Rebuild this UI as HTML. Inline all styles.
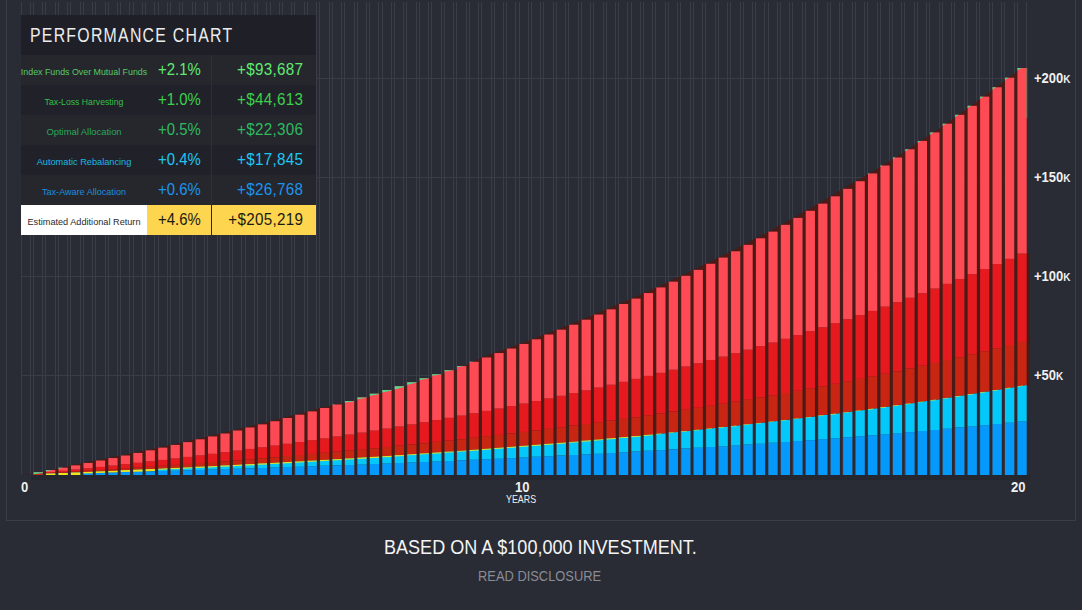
<!DOCTYPE html>
<html><head><meta charset="utf-8"><style>
html,body{margin:0;padding:0;}
body{width:1082px;height:610px;overflow:hidden;background:#292b35;position:relative;font-family:"Liberation Sans",sans-serif;}
.abs{position:absolute;white-space:nowrap;}
#frame{position:absolute;left:6px;top:-10px;width:1068px;height:529px;border:1px solid #3b3d48;}
svg{position:absolute;left:0;top:0;}
.hdr{position:absolute;left:21px;top:15px;width:294.5px;height:40px;background:#1f2027;}
.hdr span{position:absolute;left:9.3px;top:8.6px;font-size:20px;color:#ececec;letter-spacing:1.6px;white-space:nowrap;transform-origin:0 0;transform:scaleX(0.792);}
.row{position:absolute;left:21px;width:294.5px;height:30px;}
.c1,.c2,.c3{position:absolute;top:0;height:30px;white-space:nowrap;}
.c1{left:0;width:126px;text-align:center;font-size:9.3px;line-height:34px;}
.c1 i{font-style:normal;position:absolute;left:50%;top:0;white-space:nowrap;transform-origin:0 50%;}
.c2{left:126px;width:64px;text-align:center;font-size:15.7px;line-height:30px;}
.c2 i{font-style:normal;display:inline-block;transform:scaleX(0.95);}
.c3{left:190px;width:104px;font-size:15.7px;line-height:30px;}
.c3 span{position:absolute;right:11.5px;letter-spacing:0.3px;transform-origin:100% 50%;transform:scaleX(0.97);}
.ylab{position:absolute;left:1033.5px;font-size:15px;font-weight:bold;color:#f0f0f0;transform-origin:0 0;transform:scaleX(0.865);}
.ylab small{font-size:11.5px;}
.xlab{position:absolute;font-size:14.5px;font-weight:bold;color:#f0f0f0;transform-origin:0 0;transform:scaleX(0.9);}
</style></head><body>
<div id="frame"></div>
<svg width="1082" height="610" viewBox="0 0 1082 610">
<rect x="21" y="2" width="1" height="473" fill="#3a3c47"/>
<rect x="30" y="2" width="1" height="473" fill="#3a3c47"/>
<rect x="33" y="2" width="1" height="473" fill="#3a3c47"/>
<rect x="42" y="2" width="1" height="473" fill="#3a3c47"/>
<rect x="45" y="2" width="1" height="473" fill="#3a3c47"/>
<rect x="55" y="2" width="1" height="473" fill="#3a3c47"/>
<rect x="58" y="2" width="1" height="473" fill="#3a3c47"/>
<rect x="67" y="2" width="1" height="473" fill="#3a3c47"/>
<rect x="70" y="2" width="1" height="473" fill="#3a3c47"/>
<rect x="80" y="2" width="1" height="473" fill="#3a3c47"/>
<rect x="83" y="2" width="1" height="473" fill="#3a3c47"/>
<rect x="92" y="2" width="1" height="473" fill="#3a3c47"/>
<rect x="95" y="2" width="1" height="473" fill="#3a3c47"/>
<rect x="105" y="2" width="1" height="473" fill="#3a3c47"/>
<rect x="108" y="2" width="1" height="473" fill="#3a3c47"/>
<rect x="117" y="2" width="1" height="473" fill="#3a3c47"/>
<rect x="120" y="2" width="1" height="473" fill="#3a3c47"/>
<rect x="129" y="2" width="1" height="473" fill="#3a3c47"/>
<rect x="133" y="2" width="1" height="473" fill="#3a3c47"/>
<rect x="142" y="2" width="1" height="473" fill="#3a3c47"/>
<rect x="145" y="2" width="1" height="473" fill="#3a3c47"/>
<rect x="154" y="2" width="1" height="473" fill="#3a3c47"/>
<rect x="158" y="2" width="1" height="473" fill="#3a3c47"/>
<rect x="167" y="2" width="1" height="473" fill="#3a3c47"/>
<rect x="170" y="2" width="1" height="473" fill="#3a3c47"/>
<rect x="179" y="2" width="1" height="473" fill="#3a3c47"/>
<rect x="182" y="2" width="1" height="473" fill="#3a3c47"/>
<rect x="192" y="2" width="1" height="473" fill="#3a3c47"/>
<rect x="195" y="2" width="1" height="473" fill="#3a3c47"/>
<rect x="204" y="2" width="1" height="473" fill="#3a3c47"/>
<rect x="207" y="2" width="1" height="473" fill="#3a3c47"/>
<rect x="217" y="2" width="1" height="473" fill="#3a3c47"/>
<rect x="220" y="2" width="1" height="473" fill="#3a3c47"/>
<rect x="229" y="2" width="1" height="473" fill="#3a3c47"/>
<rect x="232" y="2" width="1" height="473" fill="#3a3c47"/>
<rect x="241" y="2" width="1" height="473" fill="#3a3c47"/>
<rect x="245" y="2" width="1" height="473" fill="#3a3c47"/>
<rect x="254" y="2" width="1" height="473" fill="#3a3c47"/>
<rect x="257" y="2" width="1" height="473" fill="#3a3c47"/>
<rect x="266" y="2" width="1" height="473" fill="#3a3c47"/>
<rect x="270" y="2" width="1" height="473" fill="#3a3c47"/>
<rect x="279" y="2" width="1" height="473" fill="#3a3c47"/>
<rect x="282" y="2" width="1" height="473" fill="#3a3c47"/>
<rect x="291" y="2" width="1" height="473" fill="#3a3c47"/>
<rect x="294" y="2" width="1" height="473" fill="#3a3c47"/>
<rect x="304" y="2" width="1" height="473" fill="#3a3c47"/>
<rect x="307" y="2" width="1" height="473" fill="#3a3c47"/>
<rect x="316" y="2" width="1" height="473" fill="#3a3c47"/>
<rect x="319" y="2" width="1" height="473" fill="#3a3c47"/>
<rect x="329" y="2" width="1" height="473" fill="#3a3c47"/>
<rect x="332" y="2" width="1" height="473" fill="#3a3c47"/>
<rect x="341" y="2" width="1" height="473" fill="#3a3c47"/>
<rect x="344" y="2" width="1" height="473" fill="#3a3c47"/>
<rect x="354" y="2" width="1" height="473" fill="#3a3c47"/>
<rect x="357" y="2" width="1" height="473" fill="#3a3c47"/>
<rect x="366" y="2" width="1" height="473" fill="#3a3c47"/>
<rect x="369" y="2" width="1" height="473" fill="#3a3c47"/>
<rect x="378" y="2" width="1" height="473" fill="#3a3c47"/>
<rect x="382" y="2" width="1" height="473" fill="#3a3c47"/>
<rect x="391" y="2" width="1" height="473" fill="#3a3c47"/>
<rect x="394" y="2" width="1" height="473" fill="#3a3c47"/>
<rect x="403" y="2" width="1" height="473" fill="#3a3c47"/>
<rect x="406" y="2" width="1" height="473" fill="#3a3c47"/>
<rect x="416" y="2" width="1" height="473" fill="#3a3c47"/>
<rect x="419" y="2" width="1" height="473" fill="#3a3c47"/>
<rect x="428" y="2" width="1" height="473" fill="#3a3c47"/>
<rect x="431" y="2" width="1" height="473" fill="#3a3c47"/>
<rect x="441" y="2" width="1" height="473" fill="#3a3c47"/>
<rect x="444" y="2" width="1" height="473" fill="#3a3c47"/>
<rect x="453" y="2" width="1" height="473" fill="#3a3c47"/>
<rect x="456" y="2" width="1" height="473" fill="#3a3c47"/>
<rect x="466" y="2" width="1" height="473" fill="#3a3c47"/>
<rect x="469" y="2" width="1" height="473" fill="#3a3c47"/>
<rect x="478" y="2" width="1" height="473" fill="#3a3c47"/>
<rect x="481" y="2" width="1" height="473" fill="#3a3c47"/>
<rect x="491" y="2" width="1" height="473" fill="#3a3c47"/>
<rect x="494" y="2" width="1" height="473" fill="#3a3c47"/>
<rect x="503" y="2" width="1" height="473" fill="#3a3c47"/>
<rect x="506" y="2" width="1" height="473" fill="#3a3c47"/>
<rect x="515" y="2" width="1" height="473" fill="#3a3c47"/>
<rect x="519" y="2" width="1" height="473" fill="#3a3c47"/>
<rect x="528" y="2" width="1" height="473" fill="#3a3c47"/>
<rect x="531" y="2" width="1" height="473" fill="#3a3c47"/>
<rect x="540" y="2" width="1" height="473" fill="#3a3c47"/>
<rect x="543" y="2" width="1" height="473" fill="#3a3c47"/>
<rect x="553" y="2" width="1" height="473" fill="#3a3c47"/>
<rect x="556" y="2" width="1" height="473" fill="#3a3c47"/>
<rect x="565" y="2" width="1" height="473" fill="#3a3c47"/>
<rect x="568" y="2" width="1" height="473" fill="#3a3c47"/>
<rect x="578" y="2" width="1" height="473" fill="#3a3c47"/>
<rect x="581" y="2" width="1" height="473" fill="#3a3c47"/>
<rect x="590" y="2" width="1" height="473" fill="#3a3c47"/>
<rect x="593" y="2" width="1" height="473" fill="#3a3c47"/>
<rect x="603" y="2" width="1" height="473" fill="#3a3c47"/>
<rect x="606" y="2" width="1" height="473" fill="#3a3c47"/>
<rect x="615" y="2" width="1" height="473" fill="#3a3c47"/>
<rect x="618" y="2" width="1" height="473" fill="#3a3c47"/>
<rect x="627" y="2" width="1" height="473" fill="#3a3c47"/>
<rect x="631" y="2" width="1" height="473" fill="#3a3c47"/>
<rect x="640" y="2" width="1" height="473" fill="#3a3c47"/>
<rect x="643" y="2" width="1" height="473" fill="#3a3c47"/>
<rect x="652" y="2" width="1" height="473" fill="#3a3c47"/>
<rect x="655" y="2" width="1" height="473" fill="#3a3c47"/>
<rect x="665" y="2" width="1" height="473" fill="#3a3c47"/>
<rect x="668" y="2" width="1" height="473" fill="#3a3c47"/>
<rect x="677" y="2" width="1" height="473" fill="#3a3c47"/>
<rect x="680" y="2" width="1" height="473" fill="#3a3c47"/>
<rect x="690" y="2" width="1" height="473" fill="#3a3c47"/>
<rect x="693" y="2" width="1" height="473" fill="#3a3c47"/>
<rect x="702" y="2" width="1" height="473" fill="#3a3c47"/>
<rect x="705" y="2" width="1" height="473" fill="#3a3c47"/>
<rect x="715" y="2" width="1" height="473" fill="#3a3c47"/>
<rect x="718" y="2" width="1" height="473" fill="#3a3c47"/>
<rect x="727" y="2" width="1" height="473" fill="#3a3c47"/>
<rect x="730" y="2" width="1" height="473" fill="#3a3c47"/>
<rect x="740" y="2" width="1" height="473" fill="#3a3c47"/>
<rect x="743" y="2" width="1" height="473" fill="#3a3c47"/>
<rect x="752" y="2" width="1" height="473" fill="#3a3c47"/>
<rect x="755" y="2" width="1" height="473" fill="#3a3c47"/>
<rect x="764" y="2" width="1" height="473" fill="#3a3c47"/>
<rect x="768" y="2" width="1" height="473" fill="#3a3c47"/>
<rect x="777" y="2" width="1" height="473" fill="#3a3c47"/>
<rect x="780" y="2" width="1" height="473" fill="#3a3c47"/>
<rect x="789" y="2" width="1" height="473" fill="#3a3c47"/>
<rect x="792" y="2" width="1" height="473" fill="#3a3c47"/>
<rect x="802" y="2" width="1" height="473" fill="#3a3c47"/>
<rect x="805" y="2" width="1" height="473" fill="#3a3c47"/>
<rect x="814" y="2" width="1" height="473" fill="#3a3c47"/>
<rect x="817" y="2" width="1" height="473" fill="#3a3c47"/>
<rect x="827" y="2" width="1" height="473" fill="#3a3c47"/>
<rect x="830" y="2" width="1" height="473" fill="#3a3c47"/>
<rect x="839" y="2" width="1" height="473" fill="#3a3c47"/>
<rect x="842" y="2" width="1" height="473" fill="#3a3c47"/>
<rect x="852" y="2" width="1" height="473" fill="#3a3c47"/>
<rect x="855" y="2" width="1" height="473" fill="#3a3c47"/>
<rect x="864" y="2" width="1" height="473" fill="#3a3c47"/>
<rect x="867" y="2" width="1" height="473" fill="#3a3c47"/>
<rect x="877" y="2" width="1" height="473" fill="#3a3c47"/>
<rect x="880" y="2" width="1" height="473" fill="#3a3c47"/>
<rect x="889" y="2" width="1" height="473" fill="#3a3c47"/>
<rect x="892" y="2" width="1" height="473" fill="#3a3c47"/>
<rect x="901" y="2" width="1" height="473" fill="#3a3c47"/>
<rect x="904" y="2" width="1" height="473" fill="#3a3c47"/>
<rect x="914" y="2" width="1" height="473" fill="#3a3c47"/>
<rect x="917" y="2" width="1" height="473" fill="#3a3c47"/>
<rect x="926" y="2" width="1" height="473" fill="#3a3c47"/>
<rect x="929" y="2" width="1" height="473" fill="#3a3c47"/>
<rect x="939" y="2" width="1" height="473" fill="#3a3c47"/>
<rect x="942" y="2" width="1" height="473" fill="#3a3c47"/>
<rect x="951" y="2" width="1" height="473" fill="#3a3c47"/>
<rect x="954" y="2" width="1" height="473" fill="#3a3c47"/>
<rect x="964" y="2" width="1" height="473" fill="#3a3c47"/>
<rect x="967" y="2" width="1" height="473" fill="#3a3c47"/>
<rect x="976" y="2" width="1" height="473" fill="#3a3c47"/>
<rect x="979" y="2" width="1" height="473" fill="#3a3c47"/>
<rect x="989" y="2" width="1" height="473" fill="#3a3c47"/>
<rect x="992" y="2" width="1" height="473" fill="#3a3c47"/>
<rect x="1001" y="2" width="1" height="473" fill="#3a3c47"/>
<rect x="1004" y="2" width="1" height="473" fill="#3a3c47"/>
<rect x="1014" y="2" width="1" height="473" fill="#3a3c47"/>
<rect x="1017" y="2" width="1" height="473" fill="#3a3c47"/>
<rect x="1026" y="2" width="1" height="473" fill="#3a3c47"/>
<rect x="31" y="475" width="999" height="5" fill="#1c1d24" fill-opacity="0.25"/>
<rect x="21" y="78" width="1006" height="1" fill="#3a3c47"/>
<rect x="21" y="177" width="1006" height="1" fill="#3a3c47"/>
<rect x="21" y="276" width="1006" height="1" fill="#3a3c47"/>
<rect x="21" y="375" width="1006" height="1" fill="#3a3c47"/>
<polygon points="21.17,474.50 46.20,472.28 52.08,470.01 63.03,467.71 70.98,465.36 83.44,462.97 95.89,460.53 108.34,458.05 120.80,455.52 133.25,452.94 145.70,450.32 158.16,447.65 170.61,444.92 183.07,442.15 195.52,439.32 207.97,436.45 220.43,433.51 232.88,430.53 245.33,427.48 257.79,424.38 270.24,421.23 282.69,418.01 295.15,414.73 307.60,411.39 320.05,407.99 335.51,404.52 354.89,400.99 367.67,397.40 380.45,393.73 393.21,390.00 406.29,386.19 417.73,382.32 429.53,378.37 441.82,374.34 454.11,370.24 464.04,366.07 473.50,361.81 481.95,357.48 494.40,353.06 506.86,348.56 519.31,343.97 531.76,339.30 544.22,334.54 556.67,329.69 569.12,324.75 581.58,319.71 594.03,314.58 606.48,309.35 618.94,304.02 631.39,298.59 643.84,293.06 656.30,287.43 668.75,281.68 681.21,275.83 693.66,269.87 706.11,263.79 718.57,257.60 731.02,251.29 743.47,244.87 755.93,238.32 768.38,231.64 780.83,224.84 793.29,217.91 805.74,210.85 818.19,203.65 830.65,196.32 843.10,188.85 855.55,181.23 869.51,173.47 882.46,165.57 895.51,157.51 908.67,149.30 920.42,140.93 933.58,132.41 946.13,123.72 958.58,114.86 971.04,105.84 983.49,96.65 996.14,87.28 1008.60,77.73 1021.95,68.00 1026.67,68.00 1026.67,253.58 1029.67,253.58 1029.67,386.13 1017.45,386.13 1005.00,388.25 992.54,390.32 980.09,392.36 967.64,394.36 955.18,396.32 942.73,398.24 930.28,400.13 917.82,401.99 905.37,403.80 892.91,405.59 880.46,407.34 868.01,409.06 855.55,410.75 843.10,412.40 830.65,414.03 818.19,415.62 805.74,417.18 793.29,418.72 780.83,420.23 768.38,421.70 755.93,423.16 743.47,424.58 731.02,425.98 718.57,427.35 706.11,428.69 693.66,430.02 681.21,431.31 668.75,432.58 656.30,433.83 643.84,435.06 631.39,436.26 618.94,437.44 606.48,438.60 594.03,439.73 581.58,440.85 569.12,441.94 556.67,443.02 544.22,444.07 531.76,445.11 519.31,446.12 506.86,447.12 494.40,448.10 481.95,449.06 469.50,450.00 457.04,450.93 444.59,451.84 432.14,452.73 419.68,453.60 407.23,454.46 394.78,455.30 382.32,456.13 369.87,456.94 357.41,457.74 344.96,458.52 332.51,459.29 320.05,460.04 307.60,460.78 295.15,461.51 282.69,462.22 270.24,462.92 257.79,463.61 245.33,464.28 232.88,464.94 220.43,465.59 207.97,466.23 195.52,466.85 183.07,467.47 170.61,468.07 158.16,468.66 145.70,469.24 133.25,469.81 120.80,470.37 108.34,470.92 95.89,471.46 83.44,471.99 70.98,472.51 58.53,473.02 46.08,473.52 33.62,474.02 21.17,474.50" fill="#4e1a13" fill-opacity="0.9"/>
<polygon points="21.17,474.50 33.62,474.02 46.08,473.52 58.53,473.02 70.98,472.51 83.44,471.99 95.89,471.46 108.34,470.92 120.80,470.37 133.25,469.81 145.70,469.24 158.16,468.66 170.61,468.07 183.07,467.47 195.52,466.85 207.97,466.23 220.43,465.59 232.88,464.94 245.33,464.28 257.79,463.61 270.24,462.92 282.69,462.22 295.15,461.51 307.60,460.78 320.05,460.04 332.51,459.29 344.96,458.52 357.41,457.74 369.87,456.94 382.32,456.13 394.78,455.30 407.23,454.46 419.68,453.60 432.14,452.73 444.59,451.84 457.04,450.93 469.50,450.00 481.95,449.06 494.40,448.10 506.86,447.12 519.31,446.12 531.76,445.11 544.22,444.07 556.67,443.02 569.12,441.94 581.58,440.85 594.03,439.73 606.48,438.60 618.94,437.44 631.39,436.26 643.84,435.06 656.30,433.83 668.75,432.58 681.21,431.31 693.66,430.02 706.11,428.69 718.57,427.35 731.02,425.98 743.47,424.58 755.93,423.16 768.38,421.70 780.83,420.23 793.29,418.72 805.74,417.18 818.19,415.62 830.65,414.03 843.10,412.40 855.55,410.75 868.01,409.06 880.46,407.34 892.91,405.59 905.37,403.80 917.82,401.99 930.28,400.13 942.73,398.24 955.18,396.32 967.64,394.36 980.09,392.36 992.54,390.32 1005.00,388.25 1017.45,386.13 1029.67,386.13 1029.67,475.00 1017.45,475.00 1005.00,475.00 992.54,475.00 980.09,475.00 967.64,475.00 955.18,475.00 942.73,475.00 930.28,475.00 917.82,475.00 905.37,475.00 892.91,475.00 880.46,475.00 868.01,475.00 855.55,475.00 843.10,475.00 830.65,475.00 818.19,475.00 805.74,475.00 793.29,475.00 780.83,475.00 768.38,475.00 755.93,475.00 743.47,475.00 731.02,475.00 718.57,475.00 706.11,475.00 693.66,475.00 681.21,475.00 668.75,475.00 656.30,475.00 643.84,475.00 631.39,475.00 618.94,475.00 606.48,475.00 594.03,475.00 581.58,475.00 569.12,475.00 556.67,475.00 544.22,475.00 531.76,475.00 519.31,475.00 506.86,475.00 494.40,475.00 481.95,475.00 469.50,475.00 457.04,475.00 444.59,475.00 432.14,475.00 419.68,475.00 407.23,475.00 394.78,475.00 382.32,475.00 369.87,475.00 357.41,475.00 344.96,475.00 332.51,475.00 320.05,475.00 307.60,475.00 295.15,475.00 282.69,475.00 270.24,475.00 257.79,475.00 245.33,475.00 232.88,475.00 220.43,475.00 207.97,475.00 195.52,475.00 183.07,475.00 170.61,475.00 158.16,475.00 145.70,475.00 133.25,475.00 120.80,475.00 108.34,475.00 95.89,475.00 83.44,475.00 70.98,475.00 58.53,475.00 46.08,475.00 33.62,475.00 21.17,475.00" fill="#3a1f22" fill-opacity="0.2"/>
<rect x="33.62" y="474.21" width="9.22" height="0.79" fill="#0599fc"/>
<polygon points="33.62,474.21 42.84,474.21 42.84,473.77 33.62,474.02" fill="#04c8fa"/>
<polygon points="33.62,474.02 42.84,473.77 42.84,473.78 33.62,473.78" fill="#c82612"/>
<rect x="33.62" y="473.29" width="9.22" height="0.48" fill="#e6191f"/>
<rect x="33.62" y="472.28" width="9.22" height="1.01" fill="#fe4a54"/>
<rect x="33.62" y="474.02" width="9.22" height="0.98" fill="#c82612"/>
<polygon points="33.62,472.28 42.84,472.28 42.84,472.88 33.62,474.28" fill="#52d98a"/>
<rect x="46.08" y="473.91" width="9.22" height="1.09" fill="#0599fc"/>
<polygon points="46.08,473.91 55.30,473.91 55.30,473.27 46.08,473.52" fill="#04c8fa"/>
<polygon points="46.08,473.52 55.30,473.27 55.30,473.04 46.08,473.04" fill="#c82612"/>
<rect x="46.08" y="472.06" width="9.22" height="0.98" fill="#e6191f"/>
<rect x="46.08" y="470.01" width="9.22" height="2.05" fill="#fe4a54"/>
<rect x="46.08" y="473.52" width="9.22" height="1.48" fill="#f2e21a"/>
<polygon points="46.08,470.01 52.08,470.01 46.08,471.31" fill="#52d98a"/>
<rect x="58.53" y="473.61" width="9.22" height="1.39" fill="#0599fc"/>
<polygon points="58.53,473.61 67.75,473.61 67.75,472.77 58.53,473.02" fill="#04c8fa"/>
<polygon points="58.53,473.02 67.75,472.77 67.75,472.29 58.53,472.29" fill="#c82612"/>
<rect x="58.53" y="470.81" width="9.22" height="1.48" fill="#e6191f"/>
<rect x="58.53" y="467.71" width="9.22" height="3.10" fill="#fe4a54"/>
<rect x="58.53" y="473.02" width="9.22" height="1.98" fill="#f2e21a"/>
<polygon points="58.53,467.71 63.03,467.71 58.53,468.71" fill="#52d98a"/>
<rect x="70.98" y="473.31" width="9.22" height="1.69" fill="#0599fc"/>
<polygon points="70.98,473.31 80.20,473.31 80.20,472.25 70.98,472.51" fill="#04c8fa"/>
<polygon points="70.98,472.51 80.20,472.25 80.20,471.52 70.98,471.52" fill="#c82612"/>
<rect x="70.98" y="469.53" width="9.22" height="1.99" fill="#e6191f"/>
<rect x="70.98" y="465.36" width="9.22" height="4.17" fill="#fe4a54"/>
<rect x="70.98" y="472.51" width="9.22" height="2.49" fill="#f2e21a"/>
<rect x="83.44" y="473.00" width="9.22" height="2.00" fill="#0599fc"/>
<polygon points="83.44,473.00 92.66,473.00 92.66,471.73 83.44,471.99" fill="#04c8fa"/>
<polygon points="83.44,471.99 92.66,471.73 92.66,470.74 83.44,470.74" fill="#c82612"/>
<rect x="83.44" y="468.23" width="9.22" height="2.51" fill="#e6191f"/>
<rect x="83.44" y="462.97" width="9.22" height="5.27" fill="#fe4a54"/>
<polygon points="83.44,473.59 92.66,473.33 92.66,471.73 83.44,471.99" fill="#f2e21a"/>
<rect x="95.89" y="472.68" width="9.22" height="2.32" fill="#0599fc"/>
<polygon points="95.89,472.68 105.11,472.68 105.11,471.19 95.89,471.46" fill="#04c8fa"/>
<polygon points="95.89,471.46 105.11,471.19 105.11,469.94 95.89,469.94" fill="#c82612"/>
<rect x="95.89" y="466.91" width="9.22" height="3.04" fill="#e6191f"/>
<rect x="95.89" y="460.53" width="9.22" height="6.38" fill="#fe4a54"/>
<polygon points="95.89,473.06 105.11,472.79 105.11,471.19 95.89,471.46" fill="#f2e21a"/>
<rect x="108.34" y="472.35" width="9.22" height="2.65" fill="#0599fc"/>
<polygon points="108.34,472.35 117.56,472.35 117.56,470.65 108.34,470.92" fill="#04c8fa"/>
<polygon points="108.34,470.92 117.56,470.65 117.56,469.13 108.34,469.13" fill="#c82612"/>
<rect x="108.34" y="465.56" width="9.22" height="3.58" fill="#e6191f"/>
<rect x="108.34" y="458.05" width="9.22" height="7.51" fill="#fe4a54"/>
<polygon points="108.34,472.52 117.56,472.25 117.56,470.65 108.34,470.92" fill="#f2e21a"/>
<rect x="120.80" y="472.02" width="9.22" height="2.98" fill="#0599fc"/>
<polygon points="120.80,472.02 130.02,472.02 130.02,470.09 120.80,470.37" fill="#04c8fa"/>
<polygon points="120.80,470.37 130.02,470.09 130.02,468.31 120.80,468.31" fill="#c82612"/>
<rect x="120.80" y="464.18" width="9.22" height="4.13" fill="#e6191f"/>
<rect x="120.80" y="455.52" width="9.22" height="8.67" fill="#fe4a54"/>
<polygon points="120.80,472.02 130.02,471.74 130.02,470.09 120.80,470.37" fill="#f2e21a"/>
<rect x="133.25" y="471.69" width="9.22" height="3.31" fill="#0599fc"/>
<polygon points="133.25,471.69 142.47,471.69 142.47,469.53 133.25,469.81" fill="#04c8fa"/>
<polygon points="133.25,469.81 142.47,469.53 142.47,467.47 133.25,467.47" fill="#c82612"/>
<rect x="133.25" y="462.78" width="9.22" height="4.69" fill="#e6191f"/>
<rect x="133.25" y="452.94" width="9.22" height="9.84" fill="#fe4a54"/>
<polygon points="133.25,471.69 142.47,471.40 142.47,469.53 133.25,469.81" fill="#f2e21a"/>
<rect x="145.70" y="471.35" width="9.22" height="3.65" fill="#0599fc"/>
<polygon points="145.70,471.35 154.92,471.35 154.92,468.95 145.70,469.24" fill="#04c8fa"/>
<polygon points="145.70,469.24 154.92,468.95 154.92,466.61 145.70,466.61" fill="#c82612"/>
<rect x="145.70" y="461.36" width="9.22" height="5.26" fill="#e6191f"/>
<rect x="145.70" y="450.32" width="9.22" height="11.04" fill="#fe4a54"/>
<polygon points="145.70,471.24 154.92,470.95 154.92,468.95 145.70,469.24" fill="#f2e21a"/>
<rect x="158.16" y="471.00" width="9.22" height="4.00" fill="#0599fc"/>
<polygon points="158.16,471.00 167.38,471.00 167.38,468.37 158.16,468.66" fill="#04c8fa"/>
<polygon points="158.16,468.66 167.38,468.37 167.38,465.74 158.16,465.74" fill="#c82612"/>
<rect x="158.16" y="459.91" width="9.22" height="5.84" fill="#e6191f"/>
<rect x="158.16" y="447.65" width="9.22" height="12.26" fill="#fe4a54"/>
<polygon points="158.16,469.86 167.38,469.57 167.38,468.37 158.16,468.66" fill="#f2e21a" fill-opacity="0.9"/>
<rect x="170.61" y="470.64" width="9.22" height="4.36" fill="#0599fc"/>
<polygon points="170.61,470.64 179.83,470.64 179.83,467.77 170.61,468.07" fill="#04c8fa"/>
<polygon points="170.61,468.07 179.83,467.77 179.83,464.86 170.61,464.86" fill="#c82612"/>
<rect x="170.61" y="458.43" width="9.22" height="6.43" fill="#e6191f"/>
<rect x="170.61" y="444.92" width="9.22" height="13.50" fill="#fe4a54"/>
<polygon points="170.61,469.27 179.83,468.97 179.83,467.77 170.61,468.07" fill="#f2e21a" fill-opacity="0.9"/>
<rect x="183.07" y="470.28" width="9.22" height="4.72" fill="#0599fc"/>
<polygon points="183.07,470.28 192.29,470.28 192.29,467.16 183.07,467.47" fill="#04c8fa"/>
<polygon points="183.07,467.47 192.29,467.16 192.29,463.95 183.07,463.95" fill="#c82612"/>
<rect x="183.07" y="456.92" width="9.22" height="7.03" fill="#e6191f"/>
<rect x="183.07" y="442.15" width="9.22" height="14.77" fill="#fe4a54"/>
<polygon points="183.07,468.67 192.29,468.36 192.29,467.16 183.07,467.47" fill="#f2e21a" fill-opacity="0.9"/>
<rect x="195.52" y="469.91" width="9.22" height="5.09" fill="#0599fc"/>
<polygon points="195.52,469.91 204.74,469.91 204.74,466.54 195.52,466.85" fill="#04c8fa"/>
<polygon points="195.52,466.85 204.74,466.54 204.74,463.03 195.52,463.03" fill="#c82612"/>
<rect x="195.52" y="455.38" width="9.22" height="7.65" fill="#e6191f"/>
<rect x="195.52" y="439.32" width="9.22" height="16.06" fill="#fe4a54"/>
<polygon points="195.52,468.05 204.74,467.74 204.74,466.54 195.52,466.85" fill="#f2e21a" fill-opacity="0.9"/>
<rect x="207.97" y="469.54" width="9.22" height="5.46" fill="#0599fc"/>
<polygon points="207.97,469.54 217.19,469.54 217.19,465.91 207.97,466.23" fill="#04c8fa"/>
<polygon points="207.97,466.23 217.19,465.91 217.19,462.09 207.97,462.09" fill="#c82612"/>
<rect x="207.97" y="453.82" width="9.22" height="8.27" fill="#e6191f"/>
<rect x="207.97" y="436.45" width="9.22" height="17.37" fill="#fe4a54"/>
<polygon points="207.97,467.43 217.19,467.11 217.19,465.91 207.97,466.23" fill="#f2e21a" fill-opacity="0.9"/>
<rect x="220.43" y="469.15" width="9.22" height="5.85" fill="#0599fc"/>
<polygon points="220.43,469.15 229.65,469.15 229.65,465.27 220.43,465.59" fill="#04c8fa"/>
<polygon points="220.43,465.59 229.65,465.27 229.65,461.13 220.43,461.13" fill="#c82612"/>
<rect x="220.43" y="452.22" width="9.22" height="8.91" fill="#e6191f"/>
<rect x="220.43" y="433.51" width="9.22" height="18.71" fill="#fe4a54"/>
<polygon points="220.43,466.79 229.65,466.47 229.65,465.27 220.43,465.59" fill="#f2e21a" fill-opacity="0.9"/>
<rect x="232.88" y="468.76" width="9.22" height="6.24" fill="#0599fc"/>
<polygon points="232.88,468.76 242.10,468.76 242.10,464.61 232.88,464.94" fill="#04c8fa"/>
<polygon points="232.88,464.94 242.10,464.61 242.10,460.16 232.88,460.16" fill="#c82612"/>
<rect x="232.88" y="450.60" width="9.22" height="9.56" fill="#e6191f"/>
<rect x="232.88" y="430.53" width="9.22" height="20.07" fill="#fe4a54"/>
<polygon points="232.88,466.14 242.10,465.81 242.10,464.61 232.88,464.94" fill="#f2e21a" fill-opacity="0.9"/>
<rect x="245.33" y="468.37" width="9.22" height="6.63" fill="#0599fc"/>
<polygon points="245.33,468.37 254.55,468.37 254.55,463.94 245.33,464.28" fill="#04c8fa"/>
<polygon points="245.33,464.28 254.55,463.94 254.55,459.17 245.33,459.17" fill="#c82612"/>
<rect x="245.33" y="448.95" width="9.22" height="10.22" fill="#e6191f"/>
<rect x="245.33" y="427.48" width="9.22" height="21.46" fill="#fe4a54"/>
<polygon points="245.33,465.48 254.55,465.14 254.55,463.94 245.33,464.28" fill="#f2e21a" fill-opacity="0.9"/>
<rect x="257.79" y="467.96" width="9.22" height="7.04" fill="#0599fc"/>
<polygon points="257.79,467.96 267.01,467.96 267.01,463.26 257.79,463.61" fill="#04c8fa"/>
<polygon points="257.79,463.61 267.01,463.26 267.01,458.16 257.79,458.16" fill="#c82612"/>
<rect x="257.79" y="447.26" width="9.22" height="10.89" fill="#e6191f"/>
<rect x="257.79" y="424.38" width="9.22" height="22.88" fill="#fe4a54"/>
<polygon points="257.79,464.81 267.01,464.46 267.01,463.26 257.79,463.61" fill="#f2e21a" fill-opacity="0.9"/>
<rect x="270.24" y="467.55" width="9.22" height="7.45" fill="#0599fc"/>
<polygon points="270.24,467.55 279.46,467.55 279.46,462.57 270.24,462.92" fill="#04c8fa"/>
<polygon points="270.24,462.92 279.46,462.57 279.46,457.13 270.24,457.13" fill="#c82612"/>
<rect x="270.24" y="445.55" width="9.22" height="11.58" fill="#e6191f"/>
<rect x="270.24" y="421.23" width="9.22" height="24.32" fill="#fe4a54"/>
<polygon points="270.24,464.12 279.46,463.77 279.46,462.57 270.24,462.92" fill="#f2e21a" fill-opacity="0.9"/>
<rect x="282.69" y="467.13" width="9.22" height="7.87" fill="#0599fc"/>
<polygon points="282.69,467.13 291.91,467.13 291.91,461.86 282.69,462.22" fill="#04c8fa"/>
<polygon points="282.69,462.22 291.91,461.86 291.91,456.08 282.69,456.08" fill="#c82612"/>
<rect x="282.69" y="443.80" width="9.22" height="12.28" fill="#e6191f"/>
<rect x="282.69" y="418.01" width="9.22" height="25.79" fill="#fe4a54"/>
<polygon points="282.69,463.42 291.91,463.06 291.91,461.86 282.69,462.22" fill="#f2e21a" fill-opacity="0.9"/>
<rect x="295.15" y="466.70" width="9.22" height="8.30" fill="#0599fc"/>
<polygon points="295.15,466.70 304.37,466.70 304.37,461.14 295.15,461.51" fill="#04c8fa"/>
<polygon points="295.15,461.51 304.37,461.14 304.37,455.01 295.15,455.01" fill="#c82612"/>
<rect x="295.15" y="442.02" width="9.22" height="12.99" fill="#e6191f"/>
<rect x="295.15" y="414.73" width="9.22" height="27.29" fill="#fe4a54"/>
<polygon points="295.15,462.71 304.37,462.34 304.37,461.14 295.15,461.51" fill="#f2e21a" fill-opacity="0.9"/>
<rect x="307.60" y="466.27" width="9.22" height="8.73" fill="#0599fc"/>
<polygon points="307.60,466.27 316.82,466.27 316.82,460.41 307.60,460.78" fill="#04c8fa"/>
<polygon points="307.60,460.78 316.82,460.41 316.82,453.92 307.60,453.92" fill="#c82612"/>
<rect x="307.60" y="440.20" width="9.22" height="13.72" fill="#e6191f"/>
<rect x="307.60" y="411.39" width="9.22" height="28.81" fill="#fe4a54"/>
<polygon points="307.60,461.98 316.82,461.61 316.82,460.41 307.60,460.78" fill="#f2e21a" fill-opacity="0.9"/>
<rect x="320.05" y="465.82" width="9.22" height="9.18" fill="#0599fc"/>
<polygon points="320.05,465.82 329.27,465.82 329.27,459.66 320.05,460.04" fill="#04c8fa"/>
<polygon points="320.05,460.04 329.27,459.66 329.27,452.81 320.05,452.81" fill="#c82612"/>
<rect x="320.05" y="438.35" width="9.22" height="14.46" fill="#e6191f"/>
<rect x="320.05" y="407.99" width="9.22" height="30.36" fill="#fe4a54"/>
<polygon points="320.05,461.24 329.27,460.86 329.27,459.66 320.05,460.04" fill="#f2e21a" fill-opacity="0.9"/>
<rect x="332.51" y="465.37" width="9.22" height="9.63" fill="#0599fc"/>
<polygon points="332.51,465.37 341.73,465.37 341.73,458.90 332.51,459.29" fill="#04c8fa"/>
<polygon points="332.51,459.29 341.73,458.90 341.73,451.68 332.51,451.68" fill="#c82612"/>
<rect x="332.51" y="436.47" width="9.22" height="15.21" fill="#e6191f"/>
<rect x="332.51" y="404.52" width="9.22" height="31.95" fill="#fe4a54"/>
<polygon points="332.51,460.49 341.73,460.10 341.73,458.90 332.51,459.29" fill="#f2e21a" fill-opacity="0.9"/>
<polygon points="332.51,404.52 335.51,404.52 332.51,405.12" fill="#52d98a"/>
<rect x="344.96" y="464.91" width="9.22" height="10.09" fill="#0599fc"/>
<polygon points="344.96,464.91 354.18,464.91 354.18,458.13 344.96,458.52" fill="#04c8fa"/>
<polygon points="344.96,458.52 354.18,458.13 354.18,450.53 344.96,450.53" fill="#c82612"/>
<rect x="344.96" y="434.55" width="9.22" height="15.98" fill="#e6191f"/>
<rect x="344.96" y="400.99" width="9.22" height="33.56" fill="#fe4a54"/>
<polygon points="344.96,459.72 354.18,459.33 354.18,458.13 344.96,458.52" fill="#f2e21a" fill-opacity="0.9"/>
<polygon points="344.96,400.99 354.18,400.99 354.18,401.19 344.96,402.49" fill="#52d98a"/>
<rect x="357.41" y="464.44" width="9.22" height="10.56" fill="#0599fc"/>
<polygon points="357.41,464.44 366.63,464.44 366.63,457.34 357.41,457.74" fill="#04c8fa"/>
<polygon points="357.41,457.74 366.63,457.34 366.63,449.36 357.41,449.36" fill="#c82612"/>
<rect x="357.41" y="432.60" width="9.22" height="16.76" fill="#e6191f"/>
<rect x="357.41" y="397.40" width="9.22" height="35.20" fill="#fe4a54"/>
<polygon points="357.41,458.94 366.63,458.54 366.63,457.34 357.41,457.74" fill="#f2e21a" fill-opacity="0.9"/>
<polygon points="357.41,397.40 366.63,397.40 366.63,397.70 357.41,399.20" fill="#52d98a"/>
<rect x="369.87" y="463.96" width="9.22" height="11.04" fill="#0599fc"/>
<polygon points="369.87,463.96 379.09,463.96 379.09,456.54 369.87,456.94" fill="#04c8fa"/>
<polygon points="369.87,456.94 379.09,456.54 379.09,448.16 369.87,448.16" fill="#c82612"/>
<rect x="369.87" y="430.60" width="9.22" height="17.56" fill="#e6191f"/>
<rect x="369.87" y="393.73" width="9.22" height="36.87" fill="#fe4a54"/>
<polygon points="369.87,458.14 379.09,457.74 379.09,456.54 369.87,456.94" fill="#f2e21a" fill-opacity="0.9"/>
<polygon points="369.87,393.73 379.09,393.73 379.09,394.13 369.87,395.73" fill="#52d98a"/>
<rect x="382.32" y="463.48" width="9.22" height="11.52" fill="#0599fc"/>
<polygon points="382.32,463.48 391.54,463.48 391.54,455.72 382.32,456.13" fill="#04c8fa"/>
<polygon points="382.32,456.13 391.54,455.72 391.54,446.94 382.32,446.94" fill="#c82612"/>
<rect x="382.32" y="428.57" width="9.22" height="18.37" fill="#e6191f"/>
<rect x="382.32" y="390.00" width="9.22" height="38.58" fill="#fe4a54"/>
<polygon points="382.32,457.33 391.54,456.92 391.54,455.72 382.32,456.13" fill="#f2e21a" fill-opacity="0.9"/>
<polygon points="382.32,390.00 391.54,390.00 391.54,390.50 382.32,392.40" fill="#52d98a"/>
<rect x="394.78" y="462.98" width="9.22" height="12.02" fill="#0599fc"/>
<polygon points="394.78,462.98 404.00,462.98 404.00,454.88 394.78,455.30" fill="#04c8fa"/>
<polygon points="394.78,455.30 404.00,454.88 404.00,445.70 394.78,445.70" fill="#c82612"/>
<rect x="394.78" y="426.51" width="9.22" height="19.20" fill="#e6191f"/>
<rect x="394.78" y="386.19" width="9.22" height="40.31" fill="#fe4a54"/>
<polygon points="394.78,456.50 404.00,456.08 404.00,454.88 394.78,455.30" fill="#f2e21a" fill-opacity="0.9"/>
<polygon points="394.78,386.19 404.00,386.19 404.00,386.89 394.78,389.39" fill="#52d98a"/>
<rect x="407.23" y="462.48" width="9.22" height="12.52" fill="#0599fc"/>
<polygon points="407.23,462.48 416.45,462.48 416.45,454.03 407.23,454.46" fill="#04c8fa"/>
<polygon points="407.23,454.46 416.45,454.03 416.45,444.44 407.23,444.44" fill="#c82612"/>
<rect x="407.23" y="424.40" width="9.22" height="20.04" fill="#e6191f"/>
<rect x="407.23" y="382.32" width="9.22" height="42.08" fill="#fe4a54"/>
<polygon points="407.23,455.36 416.45,454.93 416.45,454.03 407.23,454.46" fill="#f2e21a" fill-opacity="0.9"/>
<polygon points="407.23,382.32 416.45,382.32 416.45,382.72 407.23,384.72" fill="#52d98a"/>
<rect x="419.68" y="461.96" width="9.22" height="13.04" fill="#0599fc"/>
<polygon points="419.68,461.96 428.90,461.96 428.90,453.16 419.68,453.60" fill="#04c8fa"/>
<polygon points="419.68,453.60 428.90,453.16 428.90,443.15 419.68,443.15" fill="#c82612"/>
<rect x="419.68" y="422.25" width="9.22" height="20.90" fill="#e6191f"/>
<rect x="419.68" y="378.37" width="9.22" height="43.89" fill="#fe4a54"/>
<polygon points="419.68,454.50 428.90,454.06 428.90,453.16 419.68,453.60" fill="#f2e21a" fill-opacity="0.9"/>
<polygon points="419.68,378.37 428.90,378.37 428.90,378.57 419.68,379.97" fill="#52d98a"/>
<rect x="432.14" y="461.44" width="9.22" height="13.56" fill="#0599fc"/>
<polygon points="432.14,461.44 441.36,461.44 441.36,452.28 432.14,452.73" fill="#04c8fa"/>
<polygon points="432.14,452.73 441.36,452.28 441.36,441.84 432.14,441.84" fill="#c82612"/>
<rect x="432.14" y="420.07" width="9.22" height="21.77" fill="#e6191f"/>
<rect x="432.14" y="374.34" width="9.22" height="45.72" fill="#fe4a54"/>
<polygon points="432.14,453.63 441.36,453.18 441.36,452.28 432.14,452.73" fill="#f2e21a" fill-opacity="0.9"/>
<polygon points="432.14,374.34 441.36,374.34 441.36,374.49 432.14,375.74" fill="#52d98a"/>
<rect x="444.59" y="460.90" width="9.22" height="14.10" fill="#0599fc"/>
<polygon points="444.59,460.90 453.81,460.90 453.81,451.38 444.59,451.84" fill="#04c8fa"/>
<polygon points="444.59,451.84 453.81,451.38 453.81,440.50 444.59,440.50" fill="#c82612"/>
<rect x="444.59" y="417.84" width="9.22" height="22.66" fill="#e6191f"/>
<rect x="444.59" y="370.24" width="9.22" height="47.59" fill="#fe4a54"/>
<polygon points="444.59,452.74 453.81,452.28 453.81,451.38 444.59,451.84" fill="#f2e21a" fill-opacity="0.9"/>
<polygon points="444.59,370.24 453.81,370.24 453.81,370.34 444.59,371.54" fill="#52d98a"/>
<rect x="457.04" y="460.36" width="9.22" height="14.64" fill="#0599fc"/>
<polygon points="457.04,460.36 466.26,460.36 466.26,450.47 457.04,450.93" fill="#04c8fa"/>
<polygon points="457.04,450.93 466.26,450.47 466.26,439.14 457.04,439.14" fill="#c82612"/>
<rect x="457.04" y="415.57" width="9.22" height="23.57" fill="#e6191f"/>
<rect x="457.04" y="366.07" width="9.22" height="49.50" fill="#fe4a54"/>
<polygon points="457.04,451.83 466.26,451.37 466.26,450.47 457.04,450.93" fill="#f2e21a" fill-opacity="0.9"/>
<polygon points="457.04,366.07 464.04,366.07 457.04,366.97" fill="#52d98a"/>
<rect x="469.50" y="459.80" width="9.22" height="15.20" fill="#0599fc"/>
<polygon points="469.50,459.80 478.72,459.80 478.72,449.53 469.50,450.00" fill="#04c8fa"/>
<polygon points="469.50,450.00 478.72,449.53 478.72,437.75 469.50,437.75" fill="#c82612"/>
<rect x="469.50" y="413.26" width="9.22" height="24.50" fill="#e6191f"/>
<rect x="469.50" y="361.81" width="9.22" height="51.44" fill="#fe4a54"/>
<polygon points="469.50,450.90 478.72,450.43 478.72,449.53 469.50,450.00" fill="#f2e21a" fill-opacity="0.9"/>
<polygon points="469.50,361.81 473.50,361.81 469.50,362.31" fill="#52d98a"/>
<rect x="481.95" y="459.24" width="9.22" height="15.76" fill="#0599fc"/>
<polygon points="481.95,459.24 491.17,459.24 491.17,448.58 481.95,449.06" fill="#04c8fa"/>
<polygon points="481.95,449.06 491.17,448.58 491.17,436.34 481.95,436.34" fill="#c82612"/>
<rect x="481.95" y="410.90" width="9.22" height="25.44" fill="#e6191f"/>
<rect x="481.95" y="357.48" width="9.22" height="53.42" fill="#fe4a54"/>
<polygon points="481.95,449.96 491.17,449.48 491.17,448.58 481.95,449.06" fill="#f2e21a" fill-opacity="0.9"/>
<rect x="494.40" y="458.66" width="9.22" height="16.34" fill="#0599fc"/>
<polygon points="494.40,458.66 503.62,458.66 503.62,447.61 494.40,448.10" fill="#04c8fa"/>
<polygon points="494.40,448.10 503.62,447.61 503.62,434.90 494.40,434.90" fill="#c82612"/>
<rect x="494.40" y="408.50" width="9.22" height="26.40" fill="#e6191f"/>
<rect x="494.40" y="353.06" width="9.22" height="55.44" fill="#fe4a54"/>
<polygon points="494.40,449.00 503.62,448.51 503.62,447.61 494.40,448.10" fill="#f2e21a" fill-opacity="0.9"/>
<rect x="506.86" y="458.07" width="9.22" height="16.93" fill="#0599fc"/>
<polygon points="506.86,458.07 516.08,458.07 516.08,446.62 506.86,447.12" fill="#04c8fa"/>
<polygon points="506.86,447.12 516.08,446.62 516.08,433.43 506.86,433.43" fill="#c82612"/>
<rect x="506.86" y="406.05" width="9.22" height="27.38" fill="#e6191f"/>
<rect x="506.86" y="348.56" width="9.22" height="57.49" fill="#fe4a54"/>
<polygon points="506.86,448.02 516.08,447.52 516.08,446.62 506.86,447.12" fill="#f2e21a" fill-opacity="0.9"/>
<rect x="519.31" y="457.47" width="9.22" height="17.53" fill="#0599fc"/>
<polygon points="519.31,457.47 528.53,457.47 528.53,445.62 519.31,446.12" fill="#04c8fa"/>
<polygon points="519.31,446.12 528.53,445.62 528.53,431.94 519.31,431.94" fill="#c82612"/>
<rect x="519.31" y="403.56" width="9.22" height="28.38" fill="#e6191f"/>
<rect x="519.31" y="343.97" width="9.22" height="59.59" fill="#fe4a54"/>
<polygon points="519.31,447.02 528.53,446.52 528.53,445.62 519.31,446.12" fill="#f2e21a" fill-opacity="0.9"/>
<rect x="531.76" y="456.87" width="9.22" height="18.13" fill="#0599fc"/>
<polygon points="531.76,456.87 540.98,456.87 540.98,444.59 531.76,445.11" fill="#04c8fa"/>
<polygon points="531.76,445.11 540.98,444.59 540.98,430.41 531.76,430.41" fill="#c82612"/>
<rect x="531.76" y="401.02" width="9.22" height="29.39" fill="#e6191f"/>
<rect x="531.76" y="339.30" width="9.22" height="61.72" fill="#fe4a54"/>
<polygon points="531.76,446.01 540.98,445.49 540.98,444.59 531.76,445.11" fill="#f2e21a" fill-opacity="0.9"/>
<rect x="544.22" y="456.24" width="9.22" height="18.76" fill="#0599fc"/>
<polygon points="544.22,456.24 553.44,456.24 553.44,443.55 544.22,444.07" fill="#04c8fa"/>
<polygon points="544.22,444.07 553.44,443.55 553.44,428.86 544.22,428.86" fill="#c82612"/>
<rect x="544.22" y="398.43" width="9.22" height="30.43" fill="#e6191f"/>
<rect x="544.22" y="334.54" width="9.22" height="63.89" fill="#fe4a54"/>
<polygon points="544.22,444.97 553.44,444.45 553.44,443.55 544.22,444.07" fill="#f2e21a" fill-opacity="0.9"/>
<rect x="556.67" y="455.61" width="9.22" height="19.39" fill="#0599fc"/>
<polygon points="556.67,455.61 565.89,455.61 565.89,442.48 556.67,443.02" fill="#04c8fa"/>
<polygon points="556.67,443.02 565.89,442.48 565.89,427.28 556.67,427.28" fill="#c82612"/>
<rect x="556.67" y="395.80" width="9.22" height="31.48" fill="#e6191f"/>
<rect x="556.67" y="329.69" width="9.22" height="66.11" fill="#fe4a54"/>
<polygon points="556.67,443.92 565.89,443.38 565.89,442.48 556.67,443.02" fill="#f2e21a" fill-opacity="0.9"/>
<rect x="569.12" y="454.97" width="9.22" height="20.03" fill="#0599fc"/>
<polygon points="569.12,454.97 578.34,454.97 578.34,441.40 569.12,441.94" fill="#04c8fa"/>
<polygon points="569.12,441.94 578.34,441.40 578.34,425.67 569.12,425.67" fill="#c82612"/>
<rect x="569.12" y="393.11" width="9.22" height="32.56" fill="#e6191f"/>
<rect x="569.12" y="324.75" width="9.22" height="68.37" fill="#fe4a54"/>
<polygon points="569.12,442.84 578.34,442.30 578.34,441.40 569.12,441.94" fill="#f2e21a" fill-opacity="0.9"/>
<rect x="581.58" y="454.31" width="9.22" height="20.69" fill="#0599fc"/>
<polygon points="581.58,454.31 590.80,454.31 590.80,440.29 581.58,440.85" fill="#04c8fa"/>
<polygon points="581.58,440.85 590.80,440.29 590.80,424.03 581.58,424.03" fill="#c82612"/>
<rect x="581.58" y="390.38" width="9.22" height="33.65" fill="#e6191f"/>
<rect x="581.58" y="319.71" width="9.22" height="70.66" fill="#fe4a54"/>
<polygon points="581.58,441.75 590.80,441.19 590.80,440.29 581.58,440.85" fill="#f2e21a" fill-opacity="0.9"/>
<rect x="594.03" y="453.64" width="9.22" height="21.36" fill="#0599fc"/>
<polygon points="594.03,453.64 603.25,453.64 603.25,439.17 594.03,439.73" fill="#04c8fa"/>
<polygon points="594.03,439.73 603.25,439.17 603.25,422.35 594.03,422.35" fill="#c82612"/>
<rect x="594.03" y="387.59" width="9.22" height="34.77" fill="#e6191f"/>
<rect x="594.03" y="314.58" width="9.22" height="73.01" fill="#fe4a54"/>
<polygon points="594.03,440.63 603.25,440.07 603.25,439.17 594.03,439.73" fill="#f2e21a" fill-opacity="0.9"/>
<rect x="606.48" y="452.96" width="9.22" height="22.04" fill="#0599fc"/>
<polygon points="606.48,452.96 615.70,452.96 615.70,438.02 606.48,438.60" fill="#04c8fa"/>
<polygon points="606.48,438.60 615.70,438.02 615.70,420.65 606.48,420.65" fill="#c82612"/>
<rect x="606.48" y="384.74" width="9.22" height="35.90" fill="#e6191f"/>
<rect x="606.48" y="309.35" width="9.22" height="75.39" fill="#fe4a54"/>
<polygon points="606.48,439.50 615.70,438.92 615.70,438.02 606.48,438.60" fill="#f2e21a" fill-opacity="0.9"/>
<rect x="618.94" y="452.26" width="9.22" height="22.74" fill="#0599fc"/>
<polygon points="618.94,452.26 628.16,452.26 628.16,436.85 618.94,437.44" fill="#04c8fa"/>
<polygon points="618.94,437.44 628.16,436.85 628.16,418.91 618.94,418.91" fill="#c82612"/>
<rect x="618.94" y="381.85" width="9.22" height="37.06" fill="#e6191f"/>
<rect x="618.94" y="304.02" width="9.22" height="77.83" fill="#fe4a54"/>
<polygon points="618.94,438.34 628.16,437.75 628.16,436.85 618.94,437.44" fill="#f2e21a" fill-opacity="0.9"/>
<rect x="631.39" y="451.56" width="9.22" height="23.44" fill="#0599fc"/>
<polygon points="631.39,451.56 640.61,451.56 640.61,435.66 631.39,436.26" fill="#04c8fa"/>
<polygon points="631.39,436.26 640.61,435.66 640.61,417.14 631.39,417.14" fill="#c82612"/>
<rect x="631.39" y="378.90" width="9.22" height="38.24" fill="#e6191f"/>
<rect x="631.39" y="298.59" width="9.22" height="80.30" fill="#fe4a54"/>
<polygon points="631.39,437.16 640.61,436.56 640.61,435.66 631.39,436.26" fill="#f2e21a" fill-opacity="0.9"/>
<rect x="643.84" y="450.83" width="9.22" height="24.17" fill="#0599fc"/>
<polygon points="643.84,450.83 653.06,450.83 653.06,434.44 643.84,435.06" fill="#04c8fa"/>
<polygon points="643.84,435.06 653.06,434.44 653.06,415.34 643.84,415.34" fill="#c82612"/>
<rect x="643.84" y="375.89" width="9.22" height="39.44" fill="#e6191f"/>
<rect x="643.84" y="293.06" width="9.22" height="82.83" fill="#fe4a54"/>
<polygon points="643.84,435.96 653.06,435.34 653.06,434.44 643.84,435.06" fill="#f2e21a" fill-opacity="0.9"/>
<rect x="656.30" y="450.10" width="9.22" height="24.90" fill="#0599fc"/>
<polygon points="656.30,450.10 665.52,450.10 665.52,433.21 656.30,433.83" fill="#04c8fa"/>
<polygon points="656.30,433.83 665.52,433.21 665.52,413.50 656.30,413.50" fill="#c82612"/>
<rect x="656.30" y="372.83" width="9.22" height="40.67" fill="#e6191f"/>
<rect x="656.30" y="287.43" width="9.22" height="85.40" fill="#fe4a54"/>
<polygon points="656.30,434.43 661.83,434.06 661.83,433.46 656.30,433.83" fill="#f2e21a" fill-opacity="0.85"/>
<rect x="668.75" y="449.35" width="9.22" height="25.65" fill="#0599fc"/>
<polygon points="668.75,449.35 677.97,449.35 677.97,431.95 668.75,432.58" fill="#04c8fa"/>
<polygon points="668.75,432.58 677.97,431.95 677.97,411.63 668.75,411.63" fill="#c82612"/>
<rect x="668.75" y="369.71" width="9.22" height="41.92" fill="#e6191f"/>
<rect x="668.75" y="281.68" width="9.22" height="88.02" fill="#fe4a54"/>
<polygon points="668.75,433.18 674.28,432.80 674.28,432.20 668.75,432.58" fill="#f2e21a" fill-opacity="0.85"/>
<rect x="681.21" y="448.59" width="9.22" height="26.41" fill="#0599fc"/>
<polygon points="681.21,448.59 690.43,448.59 690.43,430.66 681.21,431.31" fill="#04c8fa"/>
<polygon points="681.21,431.31 690.43,430.66 690.43,409.72 681.21,409.72" fill="#c82612"/>
<rect x="681.21" y="366.53" width="9.22" height="43.19" fill="#e6191f"/>
<rect x="681.21" y="275.83" width="9.22" height="90.70" fill="#fe4a54"/>
<polygon points="681.21,431.91 686.74,431.52 686.74,430.92 681.21,431.31" fill="#f2e21a" fill-opacity="0.85"/>
<rect x="693.66" y="447.81" width="9.22" height="27.19" fill="#0599fc"/>
<polygon points="693.66,447.81 702.88,447.81 702.88,429.35 693.66,430.02" fill="#04c8fa"/>
<polygon points="693.66,430.02 702.88,429.35 702.88,407.77 693.66,407.77" fill="#c82612"/>
<rect x="693.66" y="363.29" width="9.22" height="44.48" fill="#e6191f"/>
<rect x="693.66" y="269.87" width="9.22" height="93.42" fill="#fe4a54"/>
<polygon points="693.66,430.62 699.19,430.22 699.19,429.62 693.66,430.02" fill="#f2e21a" fill-opacity="0.85"/>
<rect x="706.11" y="447.02" width="9.22" height="27.98" fill="#0599fc"/>
<polygon points="706.11,447.02 715.33,447.02 715.33,428.02 706.11,428.69" fill="#04c8fa"/>
<polygon points="706.11,428.69 715.33,428.02 715.33,405.79 706.11,405.79" fill="#c82612"/>
<rect x="706.11" y="359.99" width="9.22" height="45.81" fill="#e6191f"/>
<rect x="706.11" y="263.79" width="9.22" height="96.19" fill="#fe4a54"/>
<polygon points="706.11,429.29 711.64,428.89 711.64,428.29 706.11,428.69" fill="#f2e21a" fill-opacity="0.85"/>
<rect x="718.57" y="446.21" width="9.22" height="28.79" fill="#0599fc"/>
<polygon points="718.57,446.21 727.79,446.21 727.79,426.66 718.57,427.35" fill="#04c8fa"/>
<polygon points="718.57,427.35 727.79,426.66 727.79,403.77 718.57,403.77" fill="#c82612"/>
<rect x="718.57" y="356.62" width="9.22" height="47.15" fill="#e6191f"/>
<rect x="718.57" y="257.60" width="9.22" height="99.02" fill="#fe4a54"/>
<polygon points="718.57,427.95 724.10,427.54 724.10,426.94 718.57,427.35" fill="#f2e21a" fill-opacity="0.85"/>
<rect x="731.02" y="445.39" width="9.22" height="29.61" fill="#0599fc"/>
<polygon points="731.02,445.39 740.24,445.39 740.24,425.28 731.02,425.98" fill="#04c8fa"/>
<polygon points="731.02,425.98 740.24,425.28 740.24,401.72 731.02,401.72" fill="#c82612"/>
<rect x="731.02" y="353.19" width="9.22" height="48.52" fill="#e6191f"/>
<rect x="731.02" y="251.29" width="9.22" height="101.90" fill="#fe4a54"/>
<polygon points="731.02,426.58 736.55,426.16 736.55,425.56 731.02,425.98" fill="#f2e21a" fill-opacity="0.85"/>
<rect x="743.47" y="444.55" width="9.22" height="30.45" fill="#0599fc"/>
<polygon points="743.47,444.55 752.69,444.55 752.69,423.87 743.47,424.58" fill="#04c8fa"/>
<polygon points="743.47,424.58 752.69,423.87 752.69,399.62 743.47,399.62" fill="#c82612"/>
<rect x="743.47" y="349.70" width="9.22" height="49.92" fill="#e6191f"/>
<rect x="743.47" y="244.87" width="9.22" height="104.83" fill="#fe4a54"/>
<polygon points="743.47,425.18 749.00,424.75 749.00,424.15 743.47,424.58" fill="#f2e21a" fill-opacity="0.85"/>
<rect x="755.93" y="443.69" width="9.22" height="31.31" fill="#0599fc"/>
<polygon points="755.93,443.69 765.15,443.69 765.15,422.43 755.93,423.16" fill="#04c8fa"/>
<polygon points="755.93,423.16 765.15,422.43 765.15,397.48 755.93,397.48" fill="#c82612"/>
<rect x="755.93" y="346.14" width="9.22" height="51.34" fill="#e6191f"/>
<rect x="755.93" y="238.32" width="9.22" height="107.82" fill="#fe4a54"/>
<polygon points="755.93,423.76 761.46,423.32 761.46,422.72 755.93,423.16" fill="#f2e21a" fill-opacity="0.85"/>
<rect x="768.38" y="442.82" width="9.22" height="32.18" fill="#0599fc"/>
<polygon points="768.38,442.82 777.60,442.82 777.60,420.97 768.38,421.70" fill="#04c8fa"/>
<polygon points="768.38,421.70 777.60,420.97 777.60,395.31 768.38,395.31" fill="#c82612"/>
<rect x="768.38" y="342.51" width="9.22" height="52.80" fill="#e6191f"/>
<rect x="768.38" y="231.64" width="9.22" height="110.87" fill="#fe4a54"/>
<polygon points="768.38,422.30 773.91,421.86 773.91,421.26 768.38,421.70" fill="#f2e21a" fill-opacity="0.85"/>
<rect x="780.83" y="441.94" width="9.22" height="33.06" fill="#0599fc"/>
<polygon points="780.83,441.94 790.05,441.94 790.05,419.47 780.83,420.23" fill="#04c8fa"/>
<polygon points="780.83,420.23 790.05,419.47 790.05,393.09 780.83,393.09" fill="#c82612"/>
<rect x="780.83" y="338.82" width="9.22" height="54.27" fill="#e6191f"/>
<rect x="780.83" y="224.84" width="9.22" height="113.97" fill="#fe4a54"/>
<polygon points="780.83,420.83 786.37,420.37 786.37,419.77 780.83,420.23" fill="#f2e21a" fill-opacity="0.85"/>
<rect x="793.29" y="441.03" width="9.22" height="33.97" fill="#0599fc"/>
<polygon points="793.29,441.03 802.51,441.03 802.51,417.95 793.29,418.72" fill="#04c8fa"/>
<polygon points="793.29,418.72 802.51,417.95 802.51,390.83 793.29,390.83" fill="#c82612"/>
<rect x="793.29" y="335.05" width="9.22" height="55.78" fill="#e6191f"/>
<rect x="793.29" y="217.91" width="9.22" height="117.14" fill="#fe4a54"/>
<polygon points="793.29,419.32 798.82,418.86 798.82,418.26 793.29,418.72" fill="#f2e21a" fill-opacity="0.85"/>
<rect x="805.74" y="440.11" width="9.22" height="34.89" fill="#0599fc"/>
<polygon points="805.74,440.11 814.96,440.11 814.96,416.40 805.74,417.18" fill="#04c8fa"/>
<polygon points="805.74,417.18 814.96,416.40 814.96,388.53 805.74,388.53" fill="#c82612"/>
<rect x="805.74" y="331.21" width="9.22" height="57.32" fill="#e6191f"/>
<rect x="805.74" y="210.85" width="9.22" height="120.36" fill="#fe4a54"/>
<polygon points="805.74,417.78 811.27,417.32 811.27,416.72 805.74,417.18" fill="#f2e21a" fill-opacity="0.85"/>
<rect x="818.19" y="439.17" width="9.22" height="35.83" fill="#0599fc"/>
<polygon points="818.19,439.17 827.41,439.17 827.41,414.82 818.19,415.62" fill="#04c8fa"/>
<polygon points="818.19,415.62 827.41,414.82 827.41,386.18 818.19,386.18" fill="#c82612"/>
<rect x="818.19" y="327.30" width="9.22" height="58.88" fill="#e6191f"/>
<rect x="818.19" y="203.65" width="9.22" height="123.65" fill="#fe4a54"/>
<polygon points="818.19,416.22 823.73,415.74 823.73,415.14 818.19,415.62" fill="#f2e21a" fill-opacity="0.85"/>
<rect x="830.65" y="438.22" width="9.22" height="36.78" fill="#0599fc"/>
<polygon points="830.65,438.22 839.87,438.22 839.87,413.21 830.65,414.03" fill="#04c8fa"/>
<polygon points="830.65,414.03 839.87,413.21 839.87,383.79 830.65,383.79" fill="#c82612"/>
<rect x="830.65" y="323.31" width="9.22" height="60.47" fill="#e6191f"/>
<rect x="830.65" y="196.32" width="9.22" height="127.00" fill="#fe4a54"/>
<polygon points="830.65,414.63 836.18,414.14 836.18,413.54 830.65,414.03" fill="#f2e21a" fill-opacity="0.85"/>
<rect x="843.10" y="437.24" width="9.22" height="37.76" fill="#0599fc"/>
<polygon points="843.10,437.24 852.32,437.24 852.32,411.57 843.10,412.40" fill="#04c8fa"/>
<polygon points="843.10,412.40 852.32,411.57 852.32,381.35 843.10,381.35" fill="#c82612"/>
<rect x="843.10" y="319.25" width="9.22" height="62.10" fill="#e6191f"/>
<rect x="843.10" y="188.85" width="9.22" height="130.41" fill="#fe4a54"/>
<polygon points="843.10,413.00 848.63,412.50 848.63,411.90 843.10,412.40" fill="#f2e21a" fill-opacity="0.85"/>
<rect x="855.55" y="436.25" width="9.22" height="38.75" fill="#0599fc"/>
<polygon points="855.55,436.25 864.77,436.25 864.77,409.90 855.55,410.75" fill="#04c8fa"/>
<polygon points="855.55,410.75 864.77,409.90 864.77,378.87 855.55,378.87" fill="#c82612"/>
<rect x="855.55" y="315.12" width="9.22" height="63.75" fill="#e6191f"/>
<rect x="855.55" y="181.23" width="9.22" height="133.88" fill="#fe4a54"/>
<polygon points="855.55,411.35 861.09,410.84 861.09,410.24 855.55,410.75" fill="#f2e21a" fill-opacity="0.85"/>
<rect x="868.01" y="435.24" width="9.22" height="39.76" fill="#0599fc"/>
<polygon points="868.01,435.24 877.23,435.24 877.23,408.20 868.01,409.06" fill="#04c8fa"/>
<polygon points="868.01,409.06 877.23,408.20 877.23,376.34 868.01,376.34" fill="#c82612"/>
<rect x="868.01" y="310.90" width="9.22" height="65.44" fill="#e6191f"/>
<rect x="868.01" y="173.47" width="9.22" height="137.43" fill="#fe4a54"/>
<polygon points="868.01,409.66 873.54,409.14 873.54,408.54 868.01,409.06" fill="#f2e21a" fill-opacity="0.85"/>
<polygon points="868.01,173.47 869.51,173.47 868.01,174.27" fill="#52d98a"/>
<rect x="880.46" y="434.20" width="9.22" height="40.80" fill="#0599fc"/>
<polygon points="880.46,434.20 889.68,434.20 889.68,406.46 880.46,407.34" fill="#04c8fa"/>
<polygon points="880.46,407.34 889.68,406.46 889.68,373.76 880.46,373.76" fill="#c82612"/>
<rect x="880.46" y="306.60" width="9.22" height="67.16" fill="#e6191f"/>
<rect x="880.46" y="165.57" width="9.22" height="141.04" fill="#fe4a54"/>
<polygon points="880.46,407.94 885.99,407.41 885.99,406.81 880.46,407.34" fill="#f2e21a" fill-opacity="0.85"/>
<polygon points="880.46,165.57 882.46,165.57 880.46,166.77" fill="#52d98a"/>
<rect x="892.91" y="433.15" width="9.22" height="41.85" fill="#0599fc"/>
<polygon points="892.91,433.15 902.13,433.15 902.13,404.70 892.91,405.59" fill="#04c8fa"/>
<polygon points="892.91,405.59 902.13,404.70 902.13,371.13 892.91,371.13" fill="#c82612"/>
<rect x="892.91" y="302.22" width="9.22" height="68.91" fill="#e6191f"/>
<rect x="892.91" y="157.51" width="9.22" height="144.71" fill="#fe4a54"/>
<polygon points="892.91,406.19 898.45,405.65 898.45,405.05 892.91,405.59" fill="#f2e21a" fill-opacity="0.85"/>
<polygon points="892.91,157.51 895.51,157.51 892.91,159.11" fill="#52d98a"/>
<rect x="905.37" y="432.08" width="9.22" height="42.92" fill="#0599fc"/>
<polygon points="905.37,432.08 914.59,432.08 914.59,402.89 905.37,403.80" fill="#04c8fa"/>
<polygon points="905.37,403.80 914.59,402.89 914.59,368.46 905.37,368.46" fill="#c82612"/>
<rect x="905.37" y="297.76" width="9.22" height="70.70" fill="#e6191f"/>
<rect x="905.37" y="149.30" width="9.22" height="148.46" fill="#fe4a54"/>
<polygon points="905.37,404.40 910.90,403.86 910.90,403.26 905.37,403.80" fill="#f2e21a" fill-opacity="0.85"/>
<polygon points="905.37,149.30 908.67,149.30 905.37,151.30" fill="#52d98a"/>
<rect x="917.82" y="430.99" width="9.22" height="44.01" fill="#0599fc"/>
<polygon points="917.82,430.99 927.04,430.99 927.04,401.06 917.82,401.99" fill="#04c8fa"/>
<polygon points="917.82,401.99 927.04,401.06 927.04,365.73 917.82,365.73" fill="#c82612"/>
<rect x="917.82" y="293.21" width="9.22" height="72.51" fill="#e6191f"/>
<rect x="917.82" y="140.93" width="9.22" height="152.28" fill="#fe4a54"/>
<polygon points="917.82,402.59 923.35,402.03 923.35,401.43 917.82,401.99" fill="#f2e21a" fill-opacity="0.85"/>
<polygon points="917.82,140.93 920.42,140.93 917.82,142.53" fill="#52d98a"/>
<rect x="930.28" y="429.88" width="9.22" height="45.12" fill="#0599fc"/>
<polygon points="930.28,429.88 939.50,429.88 939.50,399.19 930.28,400.13" fill="#04c8fa"/>
<polygon points="930.28,400.13 939.50,399.19 939.50,362.95 930.28,362.95" fill="#c82612"/>
<rect x="930.28" y="288.58" width="9.22" height="74.37" fill="#e6191f"/>
<rect x="930.28" y="132.41" width="9.22" height="156.17" fill="#fe4a54"/>
<polygon points="930.28,400.73 935.81,400.16 935.81,399.56 930.28,400.13" fill="#f2e21a" fill-opacity="0.85"/>
<polygon points="930.28,132.41 933.58,132.41 930.28,134.71" fill="#52d98a"/>
<rect x="942.73" y="428.75" width="9.22" height="46.25" fill="#0599fc"/>
<polygon points="942.73,428.75 951.95,428.75 951.95,397.28 942.73,398.24" fill="#04c8fa"/>
<polygon points="942.73,398.24 951.95,397.28 951.95,360.11 942.73,360.11" fill="#c82612"/>
<rect x="942.73" y="283.86" width="9.22" height="76.26" fill="#e6191f"/>
<rect x="942.73" y="123.72" width="9.22" height="160.14" fill="#fe4a54"/>
<polygon points="942.73,398.84 948.26,398.27 948.26,397.67 942.73,398.24" fill="#f2e21a" fill-opacity="0.85"/>
<polygon points="942.73,123.72 946.13,123.72 942.73,125.82" fill="#52d98a"/>
<rect x="955.18" y="427.59" width="9.22" height="47.41" fill="#0599fc"/>
<polygon points="955.18,427.59 964.40,427.59 964.40,395.34 955.18,396.32" fill="#04c8fa"/>
<polygon points="955.18,396.32 964.40,395.34 964.40,357.23 955.18,357.23" fill="#c82612"/>
<rect x="955.18" y="279.05" width="9.22" height="78.18" fill="#e6191f"/>
<rect x="955.18" y="114.86" width="9.22" height="164.18" fill="#fe4a54"/>
<polygon points="955.18,396.92 960.71,396.33 960.71,395.73 955.18,396.32" fill="#f2e21a" fill-opacity="0.85"/>
<polygon points="955.18,114.86 958.58,114.86 955.18,116.96" fill="#52d98a"/>
<rect x="967.64" y="426.41" width="9.22" height="48.59" fill="#0599fc"/>
<polygon points="967.64,426.41 976.86,426.41 976.86,393.36 967.64,394.36" fill="#04c8fa"/>
<polygon points="967.64,394.36 976.86,393.36 976.86,354.29 967.64,354.29" fill="#c82612"/>
<rect x="967.64" y="274.14" width="9.22" height="80.14" fill="#e6191f"/>
<rect x="967.64" y="105.84" width="9.22" height="168.30" fill="#fe4a54"/>
<polygon points="967.64,394.96 973.17,394.36 973.17,393.76 967.64,394.36" fill="#f2e21a" fill-opacity="0.85"/>
<polygon points="967.64,105.84 971.04,105.84 967.64,107.94" fill="#52d98a"/>
<rect x="980.09" y="425.21" width="9.22" height="49.79" fill="#0599fc"/>
<polygon points="980.09,425.21 989.31,425.21 989.31,391.34 980.09,392.36" fill="#04c8fa"/>
<polygon points="980.09,392.36 989.31,391.34 989.31,351.29 980.09,351.29" fill="#c82612"/>
<rect x="980.09" y="269.14" width="9.22" height="82.14" fill="#e6191f"/>
<rect x="980.09" y="96.65" width="9.22" height="172.50" fill="#fe4a54"/>
<polygon points="980.09,392.96 985.62,392.35 985.62,391.75 980.09,392.36" fill="#f2e21a" fill-opacity="0.85"/>
<polygon points="980.09,96.65 983.49,96.65 980.09,98.75" fill="#52d98a"/>
<rect x="992.54" y="423.99" width="9.22" height="51.01" fill="#0599fc"/>
<polygon points="992.54,423.99 1001.76,423.99 1001.76,389.28 992.54,390.32" fill="#04c8fa"/>
<polygon points="992.54,390.32 1001.76,389.28 1001.76,348.23 992.54,348.23" fill="#c82612"/>
<rect x="992.54" y="264.05" width="9.22" height="84.18" fill="#e6191f"/>
<rect x="992.54" y="87.28" width="9.22" height="176.78" fill="#fe4a54"/>
<polygon points="992.54,390.92 998.08,390.30 998.08,389.70 992.54,390.32" fill="#f2e21a" fill-opacity="0.85"/>
<polygon points="992.54,87.28 996.14,87.28 992.54,89.38" fill="#52d98a"/>
<rect x="1005.00" y="422.75" width="9.22" height="52.25" fill="#0599fc"/>
<polygon points="1005.00,422.75 1014.22,422.75 1014.22,387.19 1005.00,388.25" fill="#04c8fa"/>
<polygon points="1005.00,388.25 1014.22,387.19 1014.22,345.12 1005.00,345.12" fill="#c82612"/>
<rect x="1005.00" y="258.86" width="9.22" height="86.25" fill="#e6191f"/>
<rect x="1005.00" y="77.73" width="9.22" height="181.13" fill="#fe4a54"/>
<polygon points="1005.00,388.85 1010.53,388.21 1010.53,387.61 1005.00,388.25" fill="#f2e21a" fill-opacity="0.85"/>
<polygon points="1005.00,77.73 1008.60,77.73 1005.00,79.83" fill="#52d98a"/>
<rect x="1017.45" y="421.48" width="9.22" height="53.52" fill="#0599fc"/>
<polygon points="1017.45,421.48 1026.67,421.48 1026.67,385.07 1017.45,386.13" fill="#04c8fa"/>
<polygon points="1017.45,386.13 1026.67,385.07 1026.67,341.95 1017.45,341.95" fill="#c82612"/>
<rect x="1017.45" y="253.58" width="9.22" height="88.37" fill="#e6191f"/>
<rect x="1017.45" y="68.00" width="9.22" height="185.58" fill="#fe4a54"/>
<polygon points="1017.45,386.73 1022.98,386.10 1022.98,385.50 1017.45,386.13" fill="#f2e21a" fill-opacity="0.85"/>
<polygon points="1017.45,68.00 1021.95,68.00 1017.45,70.20" fill="#52d98a"/>
<rect x="1026.37" y="68.00" width="1" height="50" fill="#52d98a" fill-opacity="0.45"/>
</svg>
<div class="hdr"><span>PERFORMANCE CHART</span></div>
<div class="row" style="top:55px;background:#26272d;color:#60ea72"><div class="c1" style="color:#58c867"><i style="transform:scaleX(0.951) translateX(-50%)">Index Funds Over Mutual Funds</i></div><div class="c2"><i>+2.1%</i></div><div class="c3"><span>+$93,687</span></div></div>
<div class="row" style="top:85px;background:#212229;color:#3dd04c"><div class="c1" style="color:#37bf48"><i style="transform:scaleX(0.935) translateX(-50%)">Tax-Loss Harvesting</i></div><div class="c2"><i>+1.0%</i></div><div class="c3"><span>+$44,613</span></div></div>
<div class="row" style="top:115px;background:#26272d;color:#2dba60"><div class="c1" style="color:#2aa85a"><i style="transform:scaleX(1.01) translateX(-50%)">Optimal Allocation</i></div><div class="c2"><i>+0.5%</i></div><div class="c3"><span>+$22,306</span></div></div>
<div class="row" style="top:145px;background:#212229;color:#1ec6f4"><div class="c1" style="color:#1cb8e6"><i style="transform:scaleX(0.99) translateX(-50%)">Automatic Rebalancing</i></div><div class="c2"><i>+0.4%</i></div><div class="c3"><span>+$17,845</span></div></div>
<div class="row" style="top:175px;background:#26272d;color:#1c94ec"><div class="c1" style="color:#1a8fde"><i style="transform:scaleX(0.975) translateX(-50%)">Tax-Aware Allocation</i></div><div class="c2"><i>+0.6%</i></div><div class="c3"><span>+$26,768</span></div></div>
<div class="row" style="top:205px;background:#fdd54e;color:#1c1a14"><div class="c1" style="background:#fff;color:#2a2a2a"><i style="transform:scaleX(0.985) translateX(-50%)">Estimated Additional Return</i></div><div class="c2"><i>+4.6%</i></div><div class="c3" style="border-left:1px solid #23233a;left:190px"><span style="right:12.5px">+$205,219</span></div></div>
<div class="abs" style="left:211px;top:55px;width:1px;height:150px;background:#2e2f36"></div>
<div class="ylab" style="top:68.6px">+200<small>K</small></div>
<div class="ylab" style="top:167.6px">+150<small>K</small></div>
<div class="ylab" style="top:266.6px">+100<small>K</small></div>
<div class="ylab" style="top:365.6px">+50<small>K</small></div>
<div class="xlab" style="left:20.7px;top:479px">0</div>
<div class="xlab" style="left:514.5px;top:479px">10</div>
<div class="xlab" style="left:1011px;top:479px">20</div>
<div class="abs" style="left:506px;top:494px;font-size:10.4px;color:#f0f0f0;transform-origin:0 0;transform:scaleX(0.855)">YEARS</div>
<div class="abs" style="left:384px;top:535.5px;font-size:20px;color:#f4f4f4;transform-origin:0 0;transform:scaleX(0.902)">BASED ON A $100,000 INVESTMENT.</div>
<div class="abs" style="left:478px;top:567px;font-size:15px;color:#8b8c93;transform-origin:0 0;transform:scaleX(0.859)">READ DISCLOSURE</div>
</body></html>
